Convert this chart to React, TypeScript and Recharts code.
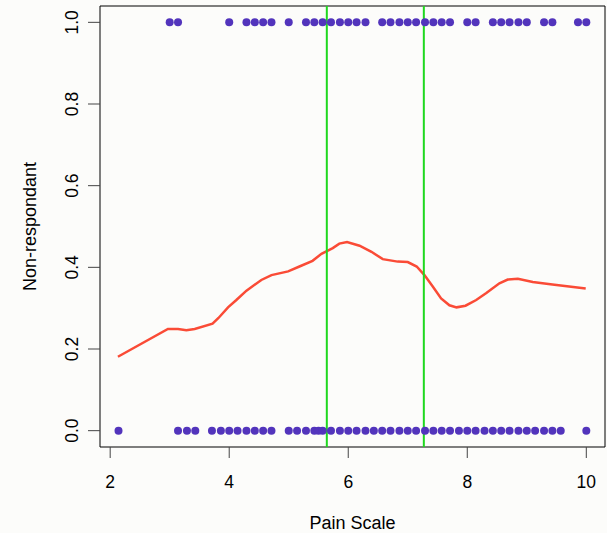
import React from "react"
import {
  ComposedChart,
  Scatter,
  Line,
  XAxis,
  YAxis,
  ReferenceLine,
  ReferenceArea,
} from "recharts"

// pain scores of respondants (0) and non-respondants (1)
const nonRespondantX = [
  3.0, 3.14, 4.0, 4.29, 4.43, 4.57, 4.71, 5.0, 5.29, 5.43, 5.57, 5.71, 5.86, 6.0, 6.14, 6.29,
  6.57, 6.71, 6.86, 7.0, 7.14, 7.29, 7.43, 7.57, 7.71, 8.0, 8.14, 8.43, 8.57, 8.71, 8.86, 9.0,
  9.29, 9.43, 9.86, 10.0,
]
const respondantX = [
  2.14, 3.14, 3.29, 3.43, 3.71, 3.86, 4.0, 4.14, 4.29, 4.43, 4.57, 4.71, 5.0, 5.14, 5.29, 5.43,
  5.5, 5.57, 5.71, 5.86, 6.0, 6.14, 6.29, 6.43, 6.57, 6.71, 6.86, 7.0, 7.14, 7.29, 7.43, 7.57,
  7.71, 7.86, 8.0, 8.14, 8.29, 8.43, 8.57, 8.71, 8.86, 9.0, 9.14, 9.29, 9.43, 9.57, 10.0,
]

// smoothed proportion
const smoothX = [
  2.13, 2.97, 3.14, 3.28, 3.42, 3.72, 3.82, 3.98, 4.12, 4.29, 4.54, 4.71, 4.99, 5.18, 5.4, 5.55,
  5.74, 5.85, 5.98, 6.19, 6.39, 6.58, 6.83, 7.0, 7.15, 7.28, 7.42, 7.56, 7.7, 7.82, 7.97, 8.15,
  8.32, 8.54, 8.68, 8.85, 9.1, 9.43, 9.99,
]
const smoothY = [
  0.181, 0.249, 0.249, 0.246, 0.249, 0.262, 0.276, 0.302, 0.32, 0.343, 0.369, 0.381, 0.39, 0.402,
  0.416, 0.433, 0.447, 0.458, 0.462, 0.453, 0.438, 0.42, 0.414, 0.413, 0.402, 0.381, 0.353, 0.324,
  0.307, 0.302, 0.306, 0.32, 0.337, 0.361, 0.37, 0.372, 0.364, 0.358, 0.348,
]

const cutoffs = [5.64, 7.27]
const xTicks = [2, 4, 6, 8, 10]
const yTicks = [0, 0.2, 0.4, 0.6, 0.8, 1.0]

const xDomain: [number, number] = [1.829, 10.314]
const yDomain: [number, number] = [-0.04, 1.04]

const topData = nonRespondantX.map((x) => ({ x, y: 1 }))
const bottomData = respondantX.map((x) => ({ x, y: 0 }))
const smoothData = smoothX.map((x, i) => ({ x, y: smoothY[i] }))

const FONT = "'Liberation Sans', Arial, Helvetica, sans-serif"
const POINT = "#5234bc"

const Dot = (p: any) => <circle cx={p.cx} cy={p.cy} r={4} fill={POINT} />

const XTick = (p: any) => (
  <text x={p.x} y={482} textAnchor="middle" dominantBaseline="central" fontSize={17.5} fill="#000">
    {p.payload.value}
  </text>
)

const YTick = (p: any) => (
  <text
    x={72}
    y={p.y}
    transform={`rotate(-90 72 ${p.y})`}
    textAnchor="middle"
    dominantBaseline="central"
    fontSize={17.5}
    fill="#000"
  >
    {p.payload.value.toFixed(1)}
  </text>
)

export default function App() {
  return (
    <div
      style={{
        position: "absolute",
        left: 0,
        top: 0,
        width: 607,
        height: 533,
        background: "#fcfcfa",
        fontFamily: FONT,
      }}
    >
      <ComposedChart width={607} height={533} margin={{ top: 6, right: 2, bottom: 0, left: 0 }}>
        <XAxis
          type="number"
          dataKey="x"
          domain={xDomain}
          ticks={xTicks}
          allowDataOverflow
          height={86}
          axisLine={false}
          tickSize={11}
          tickLine={{ stroke: "#444" }}
          tick={<XTick />}
          label={(props: any) => {
            const vb = props.viewBox
            return (
              <text
                x={vb.x + vb.width / 2}
                y={vb.y + 76}
                textAnchor="middle"
                dominantBaseline="central"
                fontSize={18}
                fill="#000"
              >
                Pain Scale
              </text>
            )
          }}
        />
        <YAxis
          type="number"
          dataKey="y"
          domain={yDomain}
          ticks={yTicks}
          allowDataOverflow
          width={100}
          axisLine={false}
          tickSize={12}
          tickLine={{ stroke: "#444" }}
          tick={<YTick />}
          label={(props: any) => {
            const vb = props.viewBox
            const cy = vb.y + vb.height / 2
            return (
              <text
                x={30}
                y={cy}
                transform={`rotate(-90 30 ${cy})`}
                textAnchor="middle"
                dominantBaseline="central"
                fontSize={18}
                fill="#000"
              >
                Non-respondant
              </text>
            )
          }}
        />
        <ReferenceArea
          x1={xDomain[0]}
          x2={xDomain[1]}
          y1={yDomain[0]}
          y2={yDomain[1]}
          fill="none"
          stroke="#000"
          strokeWidth={1}
          ifOverflow="visible"
        />
        <Scatter data={topData} shape={Dot} isAnimationActive={false} />
        <Scatter data={bottomData} shape={Dot} isAnimationActive={false} />
        <Line
          data={smoothData}
          dataKey="y"
          type="linear"
          stroke="#fa4b36"
          strokeWidth={2.5}
          dot={false}
          activeDot={false}
          isAnimationActive={false}
        />
        {cutoffs.map((c) => (
          <ReferenceLine key={c} x={c} stroke="#1fd81f" strokeWidth={2} />
        ))}
      </ComposedChart>
    </div>
  )
}
